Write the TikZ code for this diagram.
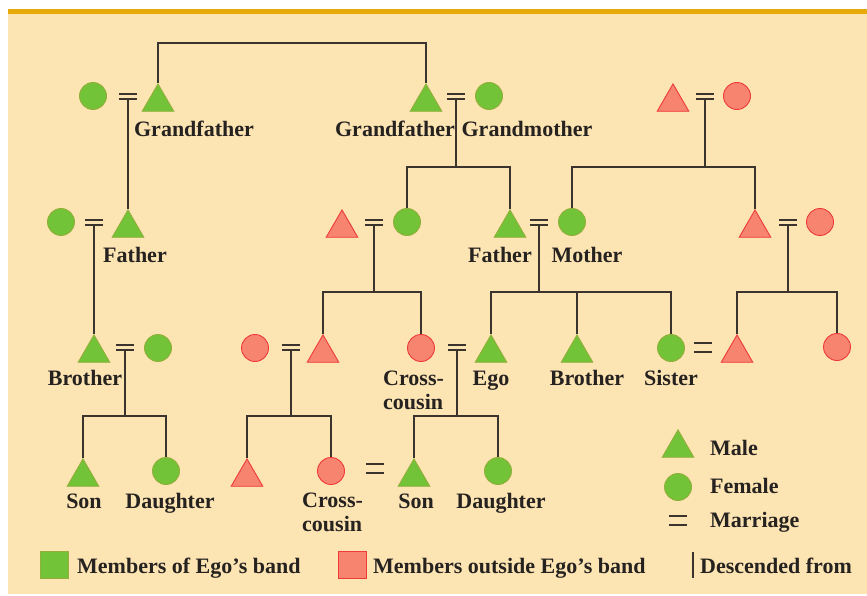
\documentclass[tikz,border=0pt]{standalone}
\usepackage{fontspec}
\setmainfont{Liberation Serif}
\usetikzlibrary{shapes.geometric}
\definecolor{bg}{HTML}{FCE4B3}
\definecolor{orng}{HTML}{E8A90B}
\definecolor{grn}{HTML}{72C337}
\definecolor{grnb}{HTML}{93AE3A}
\definecolor{rd}{HTML}{F6846F}
\definecolor{rdb}{HTML}{EF3A3A}
\definecolor{lin}{HTML}{3A332E}
\definecolor{txt}{HTML}{262220}
\tikzset{
  male/.style={regular polygon, regular polygon sides=3, inner sep=0pt, minimum size=36.5, anchor=corner 1, fill=grn, draw=grnb, line width=0.9pt},
  female/.style={circle, inner sep=0pt, minimum size=27, fill=grn, draw=grnb, line width=0.9pt},
  rmale/.style={male, fill=rd, draw=rdb},
  rfemale/.style={female, fill=rd, draw=rdb},
  con/.style={draw=lin, line width=1.4pt},
  bar/.style={draw=lin, line width=1.7pt},
  lab/.style={font=\fontsize{22}{24}\selectfont\bfseries, text=txt, inner sep=0pt, anchor=base},
  labw/.style={lab, anchor=base west},
  sq/.style={rectangle, inner sep=0pt, minimum width=28, minimum height=27, line width=0.9pt}
}
\newcommand\marr[3]{%
  \coordinate (#1) at (#2,#3+3);
  \draw[bar] (#2-9,#3-2) -- (#2+9,#3-2) (#2-9,#3+3) -- (#2+9,#3+3);}
\newcommand\peq[2]{%
  \draw[bar] (#1-9,#2-4.5) -- (#1+9,#2-4.5) (#1-9,#2+4.5) -- (#1+9,#2+4.5);}
\begin{document}
\begin{tikzpicture}[x=1pt,y=-1pt]
\useasboundingbox (0,0) rectangle (867,596);
\fill[white] (0,0) rectangle (867,596);
\fill[bg] (8,14) rectangle (867,594);
\fill[orng] (8,9) rectangle (867,14);
% levels
\coordinate (L0) at (0,43);
\coordinate (L1) at (0,167);
\coordinate (L2) at (0,292);
\coordinate (L3) at (0,416);
% Row 1
\node[female] (C1) at (93,96) {};
\marr{E1}{128}{96}
\node[male] (T1) at (158,83) {};
\node[male] (T2) at (426,83) {};
\marr{E2}{456}{96}
\node[female] (C2) at (489,96) {};
\node[rmale] (T3) at (673,83) {};
\marr{E3}{705}{96}
\node[rfemale] (C3) at (737,96) {};
\node[lab] (l1) at (194,137) {Grandfather};
\node[lab] (l2) at (395,137) {Grandfather};
\node[lab] (l3) at (527,137) {Grandmother};
% Row 2
\node[female] (C4) at (61,222) {};
\marr{E4}{94}{222}
\node[male] (T4) at (128,209) {};
\node[rmale] (T5) at (342,209) {};
\marr{E5}{374}{222}
\node[female] (C5) at (407,222) {};
\node[male] (T6) at (510,209) {};
\marr{E6}{539}{222}
\node[female] (C6) at (572,222) {};
\node[rmale] (T7) at (755,209) {};
\marr{E7}{788}{222}
\node[rfemale] (C7) at (820,222) {};
\node[lab] (l4) at (135,262) {Father};
\node[lab] (l5) at (500,262) {Father};
\node[lab] (l6) at (587,262) {Mother};
% Row 3
\node[male] (T8) at (94,334) {};
\marr{E8}{125}{347}
\node[female] (C8) at (158,348) {};
\node[rfemale] (C9) at (255,348) {};
\marr{E9}{291}{347}
\node[rmale] (T9) at (323,334) {};
\node[rfemale] (C10) at (421,348) {};
\marr{E10}{457}{347}
\node[male] (T10) at (491,334) {};
\node[male] (T11) at (577,334) {};
\node[female] (C11) at (671,348) {};
\peq{703}{347.5}
\node[rmale] (T12) at (737,334) {};
\node[rfemale] (C12) at (837,347) {};
\node[lab] (l7) at (85,385) {Brother};
\node[labw] (l8) at (383,385) {Cross-};
\node[labw] (l8b) at (383,409) {cousin};
\node[lab] (l9) at (491,385) {Ego};
\node[lab] (l10) at (587,385) {Brother};
\node[lab] (l11) at (671,385) {Sister};
% Row 4
\node[male] (T13) at (83,458) {};
\node[female] (C13) at (166,471) {};
\node[rmale] (T14) at (247,458) {};
\node[rfemale] (C14) at (331,471) {};
\peq{375}{468.5}
\node[male] (T15) at (414,458) {};
\node[female] (C15) at (498,471) {};
\node[lab] (l12) at (84,508) {Son};
\node[lab] (l13) at (170,508) {Daughter};
\node[labw] (l14) at (302,507) {Cross-};
\node[labw] (l14b) at (302,531) {cousin};
\node[lab] (l15) at (416,508) {Son};
\node[lab] (l16) at (501,508) {Daughter};
% connectors
\draw[con] (T1.corner 1) -- (T1|-L0) -- (T2|-L0) -- (T2.corner 1);
\draw[con] (E1) -- (T4.corner 1);
\draw[con] (E2) -- (E2|-L1);
\draw[con] (C5.north) |- (T6|-L1) -- (T6.corner 1);
\draw[con] (E3) -- (E3|-L1);
\draw[con] (C6.north) |- (T7|-L1) -- (T7.corner 1);
\draw[con] (E4) -- (T8.corner 1);
\draw[con] (E5) -- (E5|-L2);
\draw[con] (T9.corner 1) |- (C10|-L2) -- (C10.north);
\draw[con] (E6) -- (E6|-L2);
\draw[con] (T10.corner 1) |- (C11|-L2) -- (C11.north);
\draw[con] (T11.corner 1) -- (T11|-L2);
\draw[con] (E7) -- (E7|-L2);
\draw[con] (T12.corner 1) |- (C12|-L2) -- (C12.north);
\draw[con] (E8) -- (E8|-L3);
\draw[con] (T13.corner 1) |- (C13|-L3) -- (C13.north);
\draw[con] (E9) -- (E9|-L3);
\draw[con] (T14.corner 1) |- (C14|-L3) -- (C14.north);
\draw[con] (E10) -- (E10|-L3);
\draw[con] (T15.corner 1) |- (C15|-L3) -- (C15.north);
% legend right
\node[male] (kM) at (678,429) {};
\node[labw] (kMt) at (710,455) {Male};
\node[female] (kF) at (678,487) {};
\node[labw] (kFt) at (710,493) {Female};
\peq{678}{520.5}
\node[labw] (kEt) at (710,527) {Marriage};
% legend bottom
\node[sq, fill=grn, draw=grnb] (sqG) at (54,565) {};
\node[labw] (sqGt) at (77,573) {Members of Ego’s band};
\node[sq, fill=rd, draw=rdb] (sqR) at (352,565) {};
\node[labw] (sqRt) at (373,573) {Members outside Ego’s band};
\coordinate (dA) at (693,552);
\coordinate (dB) at (693,578);
\draw[draw=lin, line width=1.3pt] (dA) -- (dB);
\node[labw] (dT) at (700,573) {Descended from};
\end{tikzpicture}
\end{document}
